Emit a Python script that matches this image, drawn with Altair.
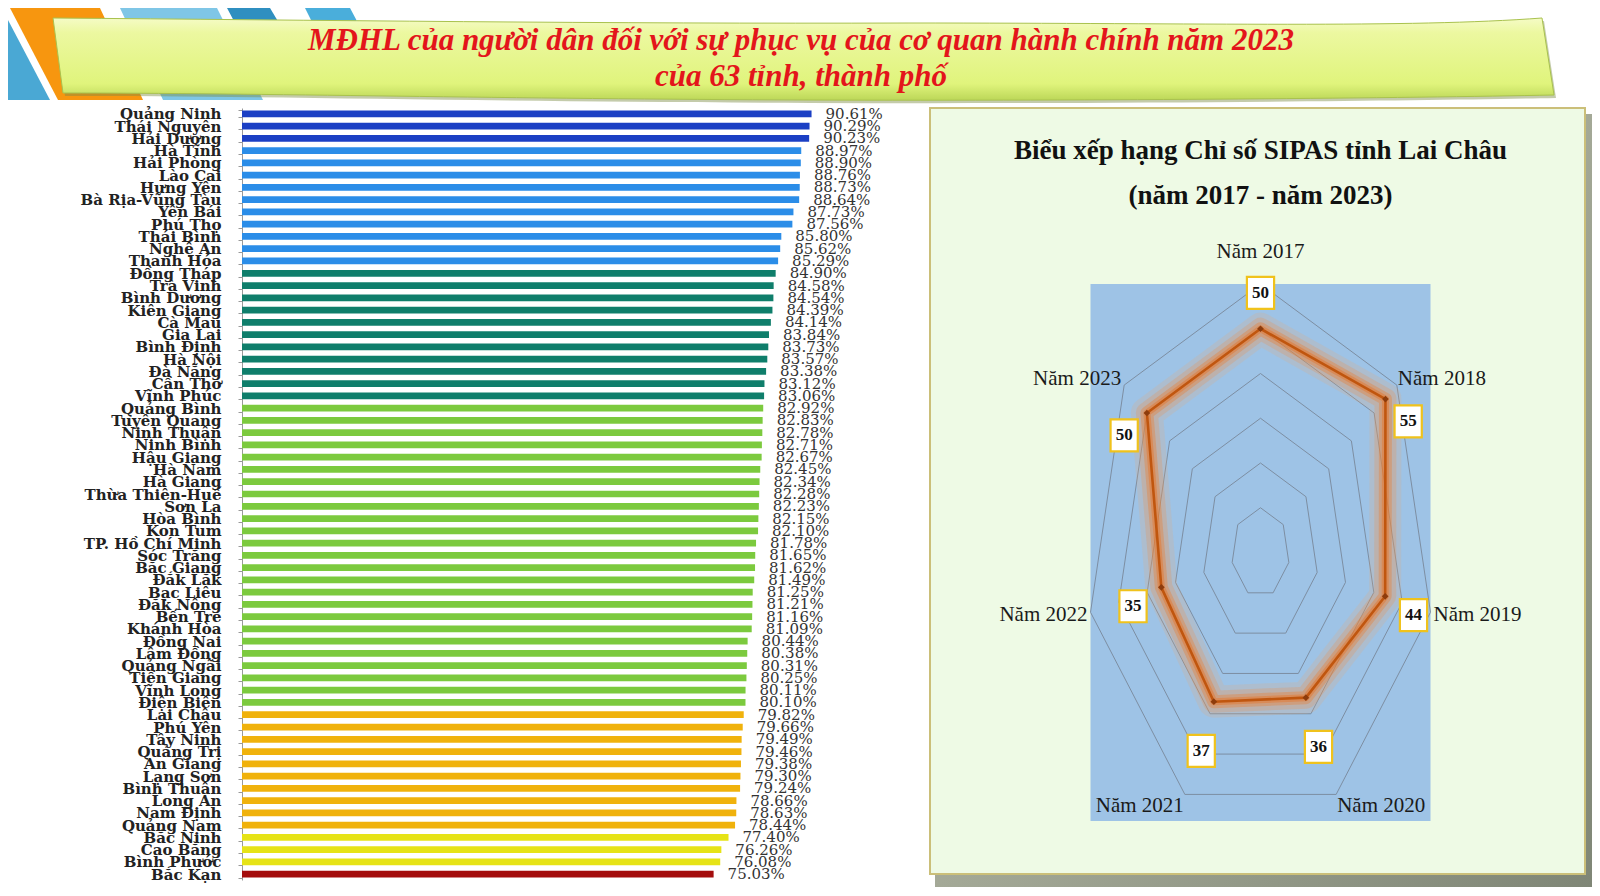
import altair as alt
import pandas as pd
import numpy as np

# ---------------- data ----------------
provinces = [
    "Quảng Ninh", "Thái Nguyên", "Hải Dương", "Hà Tĩnh", "Hải Phòng", "Lào Cai",
    "Hưng Yên", "Bà Rịa-Vũng Tàu", "Yên Bái", "Phú Thọ", "Thái Bình", "Nghệ An",
    "Thanh Hóa", "Đồng Tháp", "Trà Vinh", "Bình Dương", "Kiên Giang", "Cà Mau",
    "Gia Lai", "Bình Định", "Hà Nội", "Đà Nẵng", "Cần Thơ", "Vĩnh Phúc",
    "Quảng Bình", "Tuyên Quang", "Ninh Thuận", "Ninh Bình", "Hậu Giang", "Hà Nam",
    "Hà Giang", "Thừa Thiên-Huế", "Sơn La", "Hòa Bình", "Kon Tum", "TP. Hồ Chí Minh",
    "Sóc Trăng", "Bắc Giang", "Đắk Lắk", "Bạc Liêu", "Đắk Nông", "Bến Tre",
    "Khánh Hòa", "Đồng Nai", "Lâm Đồng", "Quảng Ngãi", "Tiền Giang", "Vĩnh Long",
    "Điện Biên", "Lai Châu", "Phú Yên", "Tây Ninh", "Quảng Trị", "An Giang",
    "Lạng Sơn", "Bình Thuận", "Long An", "Nam Định", "Quảng Nam", "Bắc Ninh",
    "Cao Bằng", "Bình Phước", "Bắc Kạn",
]
satisfaction = [
    90.61, 90.29, 90.23, 88.97, 88.90, 88.76,
    88.73, 88.64, 87.73, 87.56, 85.80, 85.62,
    85.29, 84.90, 84.58, 84.54, 84.39, 84.14,
    83.84, 83.73, 83.57, 83.38, 83.12, 83.06,
    82.92, 82.83, 82.78, 82.71, 82.67, 82.45,
    82.34, 82.28, 82.23, 82.15, 82.10, 81.78,
    81.65, 81.62, 81.49, 81.25, 81.21, 81.16,
    81.09, 80.44, 80.38, 80.31, 80.25, 80.11,
    80.10, 79.82, 79.66, 79.49, 79.46, 79.38,
    79.30, 79.24, 78.66, 78.63, 78.44, 77.40,
    76.26, 76.08, 75.03,
]
tier_names = ["Nhóm 1", "Nhóm 2", "Nhóm 3", "Nhóm 4", "Nhóm 5", "Nhóm 6", "Nhóm 7"]
tier_sizes = [3, 10, 11, 25, 10, 3, 1]
tier_colors = ["#1b3fc4", "#2b8de8", "#0f7e6b", "#7cca3e", "#f0b20c", "#e6e316", "#a40d0d"]

years = ["Năm 2017", "Năm 2018", "Năm 2019", "Năm 2020", "Năm 2021", "Năm 2022", "Năm 2023"]
ranks = [50, 55, 44, 36, 37, 35, 50]
ring_levels = [10, 20, 30, 40, 50, 60]

banner_lines = [
    "MĐHL của người dân đối với sự phục vụ của cơ quan hành chính năm 2023",
    "của 63 tỉnh, thành phố",
]
radar_title = ["Biểu xếp hạng Chỉ số SIPAS tỉnh Lai Châu", "(năm 2017 - năm 2023)"]

# ---------------- banner ----------------
one = pd.DataFrame({"k": [0]})
AXIS_EXT = 234                    # width kept for the province names
BX = -AXIS_EXT                    # banner drawn from the page's left edge
BANNER_W, BANNER_H = 1584 - AXIS_EXT, 92


def poly(path, color, **kw):
    return alt.Chart(one).mark_point(
        shape=path, size=4, filled=True, fill=color, opacity=1, strokeWidth=0, **kw
    ).encode(x=alt.value(BX), y=alt.value(0))


stripes = [
    poly("M2,0 L92,0 L135,92 L50,92 Z", "#f7960f"),
    poly("M112,0 L209,0 L255,92 L155,92 Z", "#7fc6e6"),
    poly("M219,0 L262,0 L280,30 L235,30 Z", "#2f8fc0"),
    poly("M297,0 L342,0 L358,30 L312,30 Z", "#4aaedb"),
    poly("M0,12 L42,92 L0,92 Z", "#4aa8d4"),
]
banner_path = ("M45,10 C300,12 600,16 900,15 C1200,15 1400,20 1534,10 L1546,87 "
               "C1400,90 1100,93 800,92 C500,91 250,85 55,85 Z")
banner_grad = alt.LinearGradient(
    gradient="linear", x1=0, x2=0, y1=0, y2=1,
    stops=[alt.GradientStop(offset=0, color="#f5fbc6"),
           alt.GradientStop(offset=0.18, color="#ecf8a0"),
           alt.GradientStop(offset=0.8, color="#e0f47c"),
           alt.GradientStop(offset=1, color="#bcd758")],
)
banner_shadow = alt.Chart(one).mark_point(
    shape=banner_path, size=4, filled=True, fill="#7d8c45", opacity=0.45,
    strokeWidth=0, xOffset=2, yOffset=3,
).encode(x=alt.value(BX), y=alt.value(0))
banner_shape = alt.Chart(one).mark_point(
    shape=banner_path, size=4, filled=True, fill=banner_grad, opacity=1,
    stroke="#a9c24e", strokeWidth=1,
).encode(x=alt.value(BX), y=alt.value(0))

banner_text = [
    alt.Chart(one).mark_text(
        font="Liberation Serif", fontStyle="italic", fontWeight="bold", fontSize=31,
        color="#e3151b", align="center", baseline="middle",
    ).encode(x=alt.value(BX + 793), y=alt.value(yy), text=alt.value(t))
    for t, yy in zip(banner_lines, [33, 69])
]

banner = alt.layer(*stripes, banner_shadow, banner_shape, *banner_text).properties(
    width=BANNER_W, height=BANNER_H
)

# ---------------- bar chart ----------------
tiers = []
for name, n in zip(tier_names, tier_sizes):
    tiers += [name] * n
bar_df = pd.DataFrame({"province": provinces, "value": satisfaction, "tier": tiers})
bar_df["label"] = bar_df["value"].map(lambda v: f"{v:.2f}%")

y_enc = alt.Y(
    "province:N", sort=None,
    scale=alt.Scale(paddingInner=0.45, paddingOuter=0.2),
    axis=alt.Axis(
        title=None, labelFont="DejaVu Serif", labelFontWeight="bold", labelFontSize=15,
        labelColor="#222222", labelPadding=17, tickSize=4, tickColor="#9a9a9a",
        domainColor="#9a9a9a", tickBand="extent", minExtent=AXIS_EXT, maxExtent=AXIS_EXT,
        labelLimit=230,
    ),
)
x_enc = alt.X("value:Q", scale=alt.Scale(domain=[0, 105], nice=False), axis=None)

bars = alt.Chart(bar_df).mark_bar().encode(
    y=y_enc, x=x_enc,
    color=alt.Color("tier:N", scale=alt.Scale(domain=tier_names, range=tier_colors), legend=None),
)
bar_labels = alt.Chart(bar_df).mark_text(
    align="left", baseline="middle", dx=14, font="DejaVu Serif", fontSize=15, color="#333333",
).encode(y=y_enc, x=x_enc, text="label:N")

bar_chart = alt.layer(bars, bar_labels).properties(width=660, height=772)

# ---------------- radar panel ----------------
PANEL_W, PANEL_H = 662, 779
CX, CY = 330.5, 444.5          # radar centre inside the panel (px)
UX, UY = 2.906, 4.475          # px per rank unit (x, y)
RMAX = max(ring_levels)
xdom = [-CX / UX, (PANEL_W - CX) / UX]
ydom = [-(PANEL_H - CY) / UY, CY / UY]
XS = alt.Scale(domain=xdom, nice=False, zero=False)
YS = alt.Scale(domain=ydom, nice=False, zero=False)

n = len(years)
ang = np.arange(n) * 2 * np.pi / n
sinv, cosv = np.sin(ang), np.cos(ang)

radar_df = pd.DataFrame({"year": years, "rank": ranks, "idx": np.arange(n)})
radar_df["x"] = radar_df["rank"] * sinv
radar_df["y"] = radar_df["rank"] * cosv
upper_diag = (cosv > 0.3) & (cosv < 0.9)
radar_df["lx"] = (radar_df["rank"] + 10) * sinv
radar_df["ly"] = np.where(upper_diag, radar_df["rank"] * cosv - 5,
                          (radar_df["rank"] + 10) * cosv - 2)
radar_df["vx"] = RMAX * sinv
radar_df["vy"] = RMAX * cosv

ring_df = pd.DataFrame(
    [{"level": lv, "idx": i, "x": lv * sinv[i], "y": lv * cosv[i]}
     for lv in ring_levels for i in range(n)]
)
plot_df = pd.DataFrame({"x0": [-RMAX * np.abs(sinv).max()], "x1": [RMAX * np.abs(sinv).max()],
                        "y0": [-RMAX], "y1": [RMAX]})

shadow_grad = alt.LinearGradient(
    gradient="linear", x1=0, x2=1, y1=0, y2=1,
    stops=[alt.GradientStop(offset=0, color="#c9ccb8"),
           alt.GradientStop(offset=1, color="#7f8676")],
)
panel_shadow = alt.Chart(one).mark_rect(fill=shadow_grad).encode(
    x=alt.value(5), x2=alt.value(PANEL_W), y=alt.value(6), y2=alt.value(PANEL_H))
panel_bg = alt.Chart(one).mark_rect(fill="#eefae5", stroke="#cbbf79", strokeWidth=2).encode(
    x=alt.value(0), x2=alt.value(PANEL_W - 7), y=alt.value(0), y2=alt.value(PANEL_H - 13))

plot_bg = alt.Chart(plot_df).mark_rect(fill="#9ec3e6").encode(
    x=alt.X("x0:Q", scale=XS, axis=None), x2="x1:Q",
    y=alt.Y("y0:Q", scale=YS, axis=None), y2="y1:Q")

rings = alt.Chart(ring_df).mark_line(
    interpolate="linear-closed", color="#7d8ea2", strokeWidth=1).encode(
    x=alt.X("x:Q", scale=XS, axis=None), y=alt.Y("y:Q", scale=YS, axis=None),
    detail="level:N", order="idx:Q")


def radar_line(width, color, opacity):
    return alt.Chart(radar_df).mark_line(
        interpolate="linear-closed", color=color, strokeWidth=width, opacity=opacity,
        strokeJoin="round", strokeCap="round").encode(
        x=alt.X("x:Q", scale=XS, axis=None), y=alt.Y("y:Q", scale=YS, axis=None),
        order="idx:Q")


glow = [radar_line(32, "#f4a866", 0.18), radar_line(22, "#f09048", 0.25),
        radar_line(13, "#ec7a2c", 0.35), radar_line(7, "#e86e1e", 0.4)]
main_line = radar_line(2.6, "#c0560f", 1)
points = alt.Chart(radar_df).mark_point(
    shape="diamond", filled=True, color="#8e3c0c", size=45, opacity=1).encode(
    x=alt.X("x:Q", scale=XS, axis=None), y=alt.Y("y:Q", scale=YS, axis=None))

BOX = "M-0.85,-1 L0.85,-1 L0.85,1 L-0.85,1 Z"
boxes = alt.Chart(radar_df).mark_point(
    shape=BOX, size=1024, filled=True, fill="white", stroke="#f0c21c", strokeWidth=2.2,
    opacity=1).encode(
    x=alt.X("lx:Q", scale=XS, axis=None), y=alt.Y("ly:Q", scale=YS, axis=None))
box_text = alt.Chart(radar_df).mark_text(
    font="Liberation Serif", fontWeight="bold", fontSize=17, color="#111111",
    align="center", baseline="middle").encode(
    x=alt.X("lx:Q", scale=XS, axis=None), y=alt.Y("ly:Q", scale=YS, axis=None),
    text="rank:Q")

label_style = {
    "Năm 2017": ("center", 0, -32), "Năm 2018": ("left", 1, -6),
    "Năm 2019": ("left", 3, 3), "Năm 2020": ("left", 1, 12),
    "Năm 2021": ("right", -1, 12), "Năm 2022": ("right", -3, 3),
    "Năm 2023": ("right", -3, -6),
}
year_labels = [
    alt.Chart(radar_df).transform_filter(alt.datum.year == yr).mark_text(
        font="Liberation Serif", fontSize=21, color="#1a1a1a", align=a,
        baseline="middle", dx=dx, dy=dy).encode(
        x=alt.X("vx:Q", scale=XS, axis=None), y=alt.Y("vy:Q", scale=YS, axis=None),
        text="year:N")
    for yr, (a, dx, dy) in label_style.items()
]

panel_title = [
    alt.Chart(one).mark_text(
        font="Liberation Serif", fontWeight="bold", fontSize=27, color="#111111",
        align="center", baseline="middle").encode(
        x=alt.value(CX), y=alt.value(yy), text=alt.value(t))
    for t, yy in zip(radar_title, [43, 88])
]

radar_panel = alt.layer(
    panel_shadow, panel_bg, *panel_title, plot_bg, rings, *glow, main_line, points,
    boxes, box_text, *year_labels,
).properties(width=PANEL_W, height=PANEL_H)

row = alt.hconcat(bar_chart, radar_panel, spacing=27)
chart = alt.vconcat(banner, row, spacing=-3).properties(
    padding=0, background="white"
).configure_view(stroke=None)

chart.save("out.html", embed_options={"renderer": "svg", "actions": False})
